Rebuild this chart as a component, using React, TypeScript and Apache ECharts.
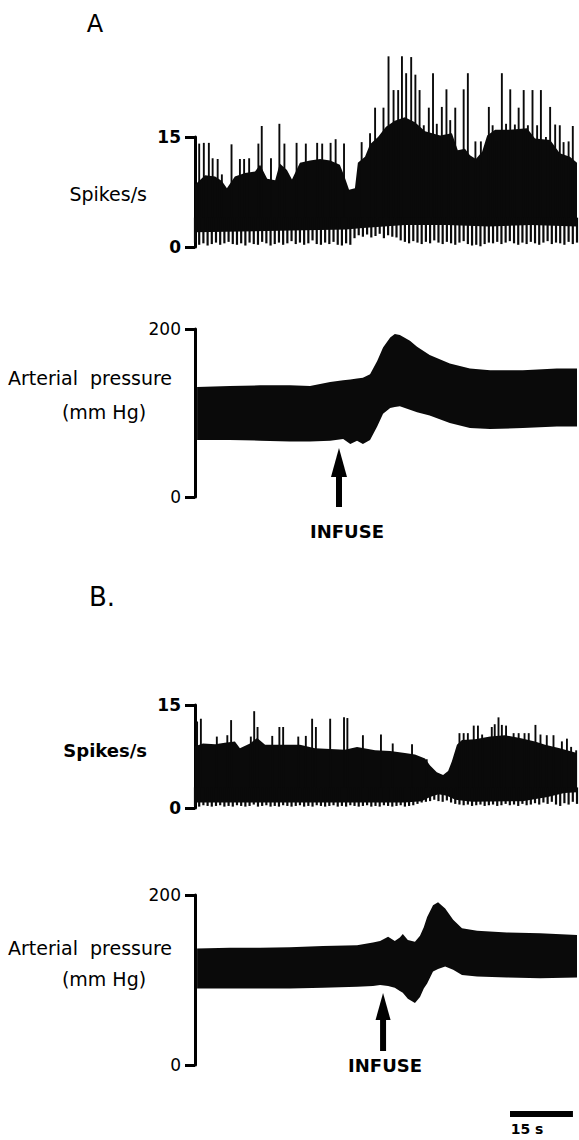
import React, { useEffect, useRef } from "react";
import * as echarts from "echarts";

const FONT = "DejaVu Sans";
const timeMax = 91; // seconds shown in each trace

// ---------- Panel A: spikes/s ----------
const aCoreT = [0, 2.4, 4.8, 6.4, 7.6, 9.5, 11.9, 14.3, 15.5, 17.2, 19.1, 20.2, 21.9, 23.1, 25, 27.4, 29.8, 32.2, 34.5, 35.5, 36.7, 38.1, 38.8, 40.5, 41.7, 43.6, 45.5, 47.6, 50, 52.4, 54.8, 58.4, 61.2, 62.6, 64.3, 65.5, 66.9, 68.4, 69.6, 71.5, 75, 79.1, 81, 84.6, 86.9, 89.3, 91];
const aCoreHigh = [8.5, 9.8, 9.6, 9.0, 8.0, 9.6, 10.1, 10.3, 11.2, 9.3, 9.1, 11.4, 10.5, 9.2, 11.5, 11.8, 12.0, 11.8, 11.2, 9.8, 7.8, 8.0, 11.5, 12.3, 14.0, 15.0, 16.4, 17.2, 17.7, 17.0, 15.8, 15.2, 15.5, 13.2, 13.4, 12.5, 12.0, 13.0, 15.2, 16.0, 16.0, 16.2, 14.8, 14.6, 12.8, 12.3, 11.5];
const aCoreLowT = [0, 20, 36, 40, 50, 60, 70, 80, 91];
const aCoreLow = [2.0, 2.2, 2.4, 2.6, 3.0, 3.0, 2.8, 3.0, 2.8];
const aSpikeT = [1.0, 2.1, 3.3, 4.2, 5.4, 6.4, 8.7, 10.7, 11.7, 12.9, 15.1, 15.9, 18.1, 20.1, 21.3, 24.2, 26.4, 29.1, 30.3, 32.3, 33.5, 35.5, 39.7, 41.7, 42.9, 44.9, 46.1, 47.3, 48.4, 49.3, 50.3, 51.5, 52.5, 53.5, 54.5, 55.7, 56.7, 57.6, 58.8, 59.9, 60.8, 62.0, 64.0, 65.0, 66.8, 68.1, 70.0, 70.9, 71.9, 73.1, 74.1, 75.1, 76.2, 77.1, 78.3, 79.3, 80.4, 81.5, 82.4, 83.6, 84.6, 85.8, 86.9, 87.8, 89.0, 90.0];
const aSpikePeak = [14.1, 14.2, 14.2, 12.1, 12.0, 9.9, 14.0, 12.0, 12.0, 12.1, 14.1, 16.5, 12.1, 16.8, 14.1, 14.2, 14.1, 14.2, 14.1, 14.2, 14.7, 14.1, 14.3, 15.5, 19.0, 19.0, 26.0, 21.4, 21.4, 26.0, 23.7, 25.9, 23.5, 21.4, 16.6, 19.0, 23.7, 16.8, 19.1, 21.5, 17.3, 19.0, 21.5, 23.7, 14.4, 14.4, 19.1, 16.6, 14.4, 23.7, 16.8, 21.5, 16.7, 19.0, 21.4, 16.6, 21.4, 16.6, 21.4, 15.0, 19.1, 16.7, 16.6, 14.3, 14.4, 16.5];
const aTroughs = [0.6, 0.3, 0.5, 0.2, 0.4, 0.6, 0.3, 0.5, 0.7, 0.4, 0.3, 0.5, 0.2, 0.6, 0.4, 0.3, 0.7, 0.5, 0.2, 0.4, 0.6, 0.3, 0.5, 0.8, 0.4, 0.6, 0.3, 0.5, 0.9, 0.4, 0.3, 0.6, 0.4, 0.7, 0.3, 0.2, 0.5, 0.3, 1.2, 1.6, 1.4, 1.7, 1.3, 1.5, 1.8, 1.2, 1.6, 1.4, 1.3, 0.9, 0.7, 0.5, 0.8, 0.6, 0.4, 0.7, 0.5, 0.9, 0.6, 0.4, 0.7, 0.5, 0.3, 0.6, 0.8, 0.4, 0.2, 0.3, 0.1, 0.4, 0.6, 0.5, 0.7, 0.4, 0.6, 0.8, 0.5, 0.3, 0.6, 0.4, 0.7, 0.5, 0.3, 0.6, 0.8, 0.4, 0.6, 0.5, 0.3, 0.7, 0.4, 0.6];

// ---------- Panel A: arterial pressure ----------
const pATime = [0.5, 8.3, 15.5, 22.6, 27.4, 32.2, 35.3, 37.0, 38.6, 40.0, 41.7, 43.4, 44.8, 46.5, 47.6, 48.8, 51.2, 52.9, 55.9, 60.7, 65.5, 70.3, 78.1, 86.2, 91.0];
const pAHigh = [131, 132, 133, 133, 132, 137, 139, 140, 141, 142, 146, 162, 178, 190, 194, 193, 186, 179, 169, 159, 153, 151, 151, 153, 153];
const pALow = [68, 68, 67, 66, 66, 67, 69, 63, 67, 63, 68, 84, 99, 106, 107, 108, 104, 101, 97, 88, 82, 81, 82, 84, 84];
const infuseTimeA = 34.3;

// ---------- Panel B: spikes/s ----------
const bCoreT = [0, 1.9, 4.8, 7.1, 9.5, 10.7, 13.1, 14.8, 16.7, 21.4, 25, 28.6, 32.2, 35.7, 38.6, 42.9, 46.5, 50, 52.4, 54.8, 56, 57.6, 59.1, 60.3, 61.2, 62.4, 63.6, 66.7, 70.3, 73.8, 77.4, 81, 83.4, 86.9, 91];
const bCoreHigh = [9.0, 9.4, 9.3, 9.5, 9.7, 8.7, 9.4, 10.2, 9.2, 9.2, 9.2, 8.7, 8.6, 8.5, 8.9, 8.4, 8.3, 8.0, 7.8, 7.2, 6.2, 5.2, 4.8, 5.4, 6.8, 9.2, 9.9, 10.0, 10.4, 10.6, 10.2, 9.7, 9.2, 8.7, 8.0];
const bCoreLowT = [0, 50, 54, 56, 58, 60, 62, 66, 78, 84, 88, 91];
const bCoreLow = [0.8, 0.8, 1.0, 1.6, 2.0, 1.8, 1.2, 0.9, 1.0, 1.6, 2.2, 2.3];
const bSpikeT = [0.5, 1.4, 5.2, 7.7, 8.6, 13.3, 14.1, 14.9, 18.4, 20.1, 21.0, 24.6, 26.4, 27.9, 28.8, 32.2, 35.5, 36.3, 40.0, 44.3, 47.1, 51.7, 55.2, 63.0, 64.0, 65.0, 66.4, 67.4, 68.4, 70.7, 71.4, 72.3, 73.1, 74.1, 75.9, 77.1, 78.5, 79.5, 81.1, 82.3, 83.8, 85.4, 87.4, 88.6, 89.6, 90.8];
const bSpikePeak = [12.6, 13.0, 10.4, 10.6, 12.8, 10.4, 14.1, 11.8, 10.5, 11.8, 11.8, 10.4, 10.5, 13.0, 11.8, 13.0, 13.2, 13.1, 10.6, 10.7, 9.4, 9.3, 7.1, 10.9, 10.9, 10.9, 12.0, 12.0, 10.7, 11.8, 12.2, 13.2, 12.1, 12.0, 10.9, 10.9, 10.9, 10.9, 12.1, 10.7, 10.6, 10.6, 9.7, 10.1, 8.9, 8.4];
const bTroughs = [0.3, 0.2, 0.4, 0.3, 0.2, 0.3, 0.4, 0.2, 0.3, 0.2, 0.4, 0.3, 0.2, 0.3, 0.5, 0.2, 0.3, 0.4, 0.2, 0.3, 0.2, 0.4, 0.3, 0.2, 0.3, 0.4, 0.2, 0.3, 0.2, 0.4, 0.3, 0.2, 0.3, 0.4, 0.2, 0.3, 0.2, 0.4, 0.3, 0.2, 0.3, 0.4, 0.2, 0.3, 0.2, 0.4, 0.3, 0.2, 0.3, 0.4, 0.2, 0.3, 0.4, 0.6, 0.8, 0.9, 1.0, 1.2, 1.0, 0.9, 1.1, 0.8, 0.6, 0.5, 0.4, 0.5, 0.3, 0.4, 0.5, 0.3, 0.4, 0.5, 0.3, 0.4, 0.6, 0.4, 0.5, 0.3, 0.6, 0.4, 0.5, 0.7, 0.5, 0.8, 0.6, 0.9, 0.5, 0.3, 0.7, 0.5, 0.9, 0.6];

// ---------- Panel B: arterial pressure ----------
const pBTime = [0.5, 8.3, 15.5, 22.6, 30.5, 38.6, 42.4, 44.1, 46.0, 47.6, 48.8, 49.5, 50.7, 52.4, 53.6, 54.5, 55.3, 56.7, 57.9, 59.6, 61.5, 63.6, 67.2, 74.3, 82.2, 91.0];
const pBHigh = [137, 138, 138, 138.5, 140, 141, 144, 146, 151, 146, 150, 154, 147, 145, 152, 162, 174, 188, 191.5, 184, 171, 161, 158, 156, 155, 153];
const pBLow = [90, 90, 90, 90, 91, 92, 93, 94, 93, 91, 87, 85, 78, 73, 80, 90, 96, 110, 113, 116, 112, 106, 104, 103, 102, 103];
const infuseTimeB = 44.8;

const scaleBarSeconds = 15;
const spikeTicks = { min: 0, max: 15 };
const pressureTicks = { min: 0, max: 200 };

function band(times: number[], highs: number[], lowTimes: number[], lows: number[], g: number) {
  return {
    type: "custom",
    xAxisIndex: g,
    yAxisIndex: g,
    clip: false,
    silent: true,
    data: [[0, 0]],
    renderItem: (_p: any, api: any) => {
      const pts: number[][] = [];
      for (let i = 0; i < times.length; i++) pts.push(api.coord([times[i], highs[i]]));
      for (let i = lowTimes.length - 1; i >= 0; i--) pts.push(api.coord([lowTimes[i], lows[i]]));
      return { type: "polygon", shape: { points: pts }, style: { fill: "#0a0a0a" } };
    },
  };
}

function strokes(times: number[], values: number[], base: number, g: number, w: number) {
  return {
    type: "custom",
    xAxisIndex: g,
    yAxisIndex: g,
    clip: false,
    silent: true,
    data: times.map((t, i) => [t, values[i]]),
    renderItem: (_p: any, api: any) => {
      const a = api.coord([api.value(0), api.value(1)]);
      const b = api.coord([api.value(0), base]);
      return {
        type: "line",
        shape: { x1: a[0], y1: a[1], x2: b[0], y2: b[1] },
        style: { stroke: "#0a0a0a", lineWidth: w },
      };
    },
  };
}

function yAx(g: number, t: { min: number; max: number }, weight: string) {
  return {
    type: "value",
    gridIndex: g,
    min: t.min,
    max: t.max,
    interval: t.max,
    offset: 10,
    axisLine: { show: true, lineStyle: { color: "#000", width: 3 } },
    axisTick: { show: true, length: 10, inside: false, lineStyle: { color: "#000", width: 3 } },
    axisLabel: { show: true, color: "#000", fontSize: 17, fontFamily: FONT, fontWeight: weight, margin: 4 },
    splitLine: { show: false },
  };
}

function txt(text: string, x: number, y: number, size: number, align: string, weight = "normal") {
  return {
    type: "text",
    x,
    y,
    silent: true,
    style: {
      text,
      fontSize: size,
      fontFamily: FONT,
      fontWeight: weight,
      fill: "#000",
      textAlign: align,
      align,
      textVerticalAlign: "middle",
      verticalAlign: "middle",
    },
  };
}

function arrow(x: number, tipY: number, headH: number, halfW: number, shaftLen: number) {
  return [
    { type: "polygon", silent: true, shape: { points: [[x, tipY], [x - halfW, tipY + headH], [x + halfW, tipY + headH]] }, style: { fill: "#000" } },
    { type: "rect", silent: true, shape: { x: x - 3, y: tipY + headH - 1, width: 6, height: shaftLen }, style: { fill: "#000" } },
  ];
}

export default function App() {
  const ref = useRef<HTMLDivElement>(null);
  useEffect(() => {
    if (!ref.current) return;
    const chart = echarts.init(ref.current, undefined, { renderer: "svg" });
    const grids = [
      { left: 195, width: 382, top: 137, height: 110 },
      { left: 195, width: 382, top: 329, height: 168 },
      { left: 195, width: 382, top: 705, height: 103 },
      { left: 195, width: 382, top: 895, height: 170 },
    ];
    chart.setOption({
      animation: false,
      backgroundColor: "#fff",
      grid: grids,
      xAxis: grids.map((_, g) => ({ type: "value", gridIndex: g, min: 0, max: timeMax, show: false })),
      yAxis: [yAx(0, spikeTicks, "bold"), yAx(1, pressureTicks, "normal"), yAx(2, spikeTicks, "bold"), yAx(3, pressureTicks, "normal")],
      series: [
        band(aCoreT, aCoreHigh, aCoreLowT, aCoreLow, 0),
        strokes(aSpikeT, aSpikePeak, 4, 0, 1.9),
        strokes(aTroughs.map((_, i) => i), aTroughs, 4, 0, 2.2),
        band(pATime, pAHigh, pATime, pALow, 1),
        band(bCoreT, bCoreHigh, bCoreLowT, bCoreLow, 2),
        strokes(bSpikeT, bSpikePeak, 3, 2, 1.9),
        strokes(bTroughs.map((_, i) => i), bTroughs, 3, 2, 2.2),
        band(pBTime, pBHigh, pBTime, pBLow, 3),
      ],
    });
    const xa = chart.convertToPixel({ xAxisIndex: 1 }, infuseTimeA) as number;
    const xb = chart.convertToPixel({ xAxisIndex: 3 }, infuseTimeB) as number;
    const s0 = chart.convertToPixel({ xAxisIndex: 3 }, 0) as number;
    const s1 = chart.convertToPixel({ xAxisIndex: 3 }, scaleBarSeconds) as number;
    const barLen = s1 - s0;
    chart.setOption({
      graphic: [
        txt("A", 95, 24, 24, "center"),
        txt("Spikes/s", 147, 194, 19, "right"),
        txt("Arterial  pressure", 90, 378, 19, "center"),
        txt("(mm Hg)", 104, 412, 19, "center"),
        ...arrow(xa, 448, 29, 8, 31),
        txt("INFUSE", xa + 8, 531, 18, "center", "bold"),
        txt("B.", 102, 597, 26, "center"),
        txt("Spikes/s", 147, 750, 18, "right", "bold"),
        txt("Arterial  pressure", 90, 948, 19, "center"),
        txt("(mm Hg)", 104, 979, 19, "center"),
        ...arrow(xb, 993, 27, 7.5, 32),
        txt("INFUSE", xb + 2, 1065, 18, "center", "bold"),
        { type: "rect", silent: true, shape: { x: 510, y: 1111, width: barLen, height: 6 }, style: { fill: "#000" } },
        txt("15 s", 527, 1129, 14, "center", "bold"),
      ],
    });
    return () => chart.dispose();
  }, []);
  return <div ref={ref} style={{ position: "absolute", left: 0, top: 0, width: 579, height: 1140 }} />;
}
